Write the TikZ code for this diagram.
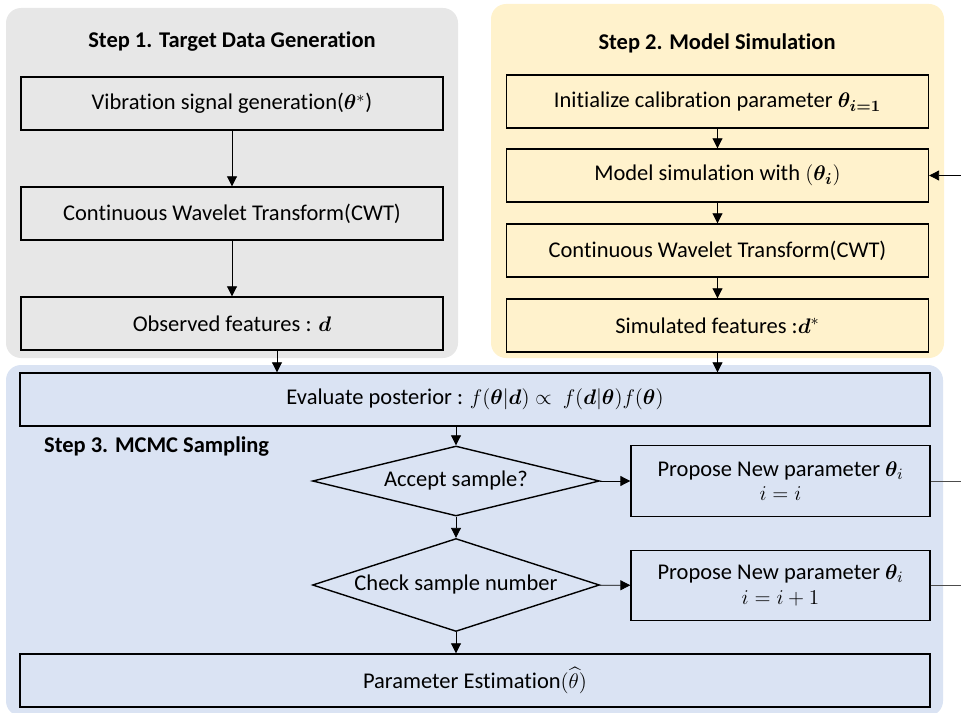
\documentclass[tikz,border=0pt]{standalone}
\usepackage{amsmath,bm}
\usepackage{fontspec}
\setmainfont{Carlito}[Ligatures=NoCommon]
\usetikzlibrary{shapes.geometric,arrows.meta}

\definecolor{panelgray}{RGB}{231,231,231}
\definecolor{panelgold}{RGB}{255,242,204}
\definecolor{panelblue}{RGB}{218,227,243}

\begin{document}
\begin{tikzpicture}[x=0.02cm, y=-0.02cm, font=\fontsize{12.8}{14}\selectfont,
  stepbox/.style={draw, line width=0.8pt, minimum width=#1, minimum height=1.06cm, align=center},
  stepbox/.default=8.44cm,
  decision/.style={draw, line width=0.8pt, shape=diamond, shape aspect=3.1, inner sep=0pt, minimum width=5.74cm, minimum height=#1},
  arr/.style={-{Triangle[length=2mm,width=2mm]}, line width=0.5pt},
  steptitle/.style={font=\fontsize{12.8}{14}\selectfont\bfseries}]
  \useasboundingbox (0,0) rectangle (961,713);
  \fill[panelgray, rounded corners=0.3cm] (6,8) rectangle (458,358);
  \fill[panelgold, rounded corners=0.3cm] (491,4) rectangle (944,358);
  \fill[panelblue, rounded corners=0.3cm] (6,365) rectangle (943,716);

  % Step 1
  \node[steptitle] (title1) at (232,42) {Step 1. Target Data Generation};
  \node[stepbox] (vib) at (232,103.5) {Vibration signal generation($\bm{\theta}^{*}$)};
  \node[stepbox] (cwt1) at (232,213.5) {Continuous Wavelet Transform(CWT)};
  \node[stepbox] (obs) at (232,323.5) {Observed features : $\bm{d}$};

  % Step 2
  \node[steptitle] (title2) at (717,43) {Step 2. Model Simulation};
  \node[stepbox] (init) at (717.5,101.5) {Initialize calibration parameter $\bm{\theta}_{\bm{i=1}}$};
  \node[stepbox] (model) at (717.5,175.5) {Model simulation with $(\bm{\theta}_{\bm{i}})$};
  \node[stepbox] (cwt2) at (717.5,250.5) {Continuous Wavelet Transform(CWT)};
  \node[stepbox] (simf) at (717.5,325.5) {Simulated features :$\bm{d}^{*}$};

  % Step 3
  \node[steptitle, anchor=west] (title3) at (38,447) {Step 3. MCMC Sampling};
  \node[stepbox=18.2cm] (post) at (475,399.5) {Evaluate posterior : $f(\bm{\theta}|\bm{d}) \propto\ f(\bm{d}|\bm{\theta})f(\bm{\theta})$};
  \node[decision=1.4cm] (acc) at (456,481) {Accept sample?};
  \node[decision=1.86cm] (chk) at (456,585) {Check sample number};
  \node[stepbox=5.98cm, minimum height=1.42cm] (prop1) at (780.5,481) {Propose New parameter $\bm{\theta}_i$\\$i=i$};
  \node[stepbox=5.98cm, minimum height=1.4cm] (prop2) at (780.5,585.5) {Propose New parameter $\bm{\theta}_i$\\$i=i+1$};
  \node[stepbox=18.2cm] (est) at (475,680.5) {Parameter Estimation$(\widehat{\theta})$};
  % \node[stepbox=18.2cm] (est) at (475,690) {};

  \coordinate (back1) at (961,481);
  \coordinate (back2) at (961,585.5);
  \coordinate (loop) at (961,175.5);

  \draw[arr] (vib) -- (cwt1);
  \draw[arr] (cwt1) -- (obs);
  \draw[arr] ([xshift=0.9cm]obs.south) -- ([xshift=0.9cm]obs.south |- post.north);
  \draw[arr] (init) -- (model);
  \draw[arr] (model) -- (cwt2);
  \draw[arr] (cwt2) -- (simf);
  \draw[arr] (simf) -- (simf.south |- post.north);
  \draw[arr] (post.south -| acc.north) -- (acc);
  \draw[arr] (acc) -- (prop1);
  \draw[arr] (acc) -- (chk);
  \draw[arr] (chk) -- (prop2);
  \draw[arr] (chk) -- (chk.south |- est.north);
  \draw[line width=0.5pt, black!70] (prop1) -- (back1);
  \draw[line width=0.5pt, black!70] (prop2) -- (back2);
  \draw[arr] (loop) -- (model);
\end{tikzpicture}
\end{document}
